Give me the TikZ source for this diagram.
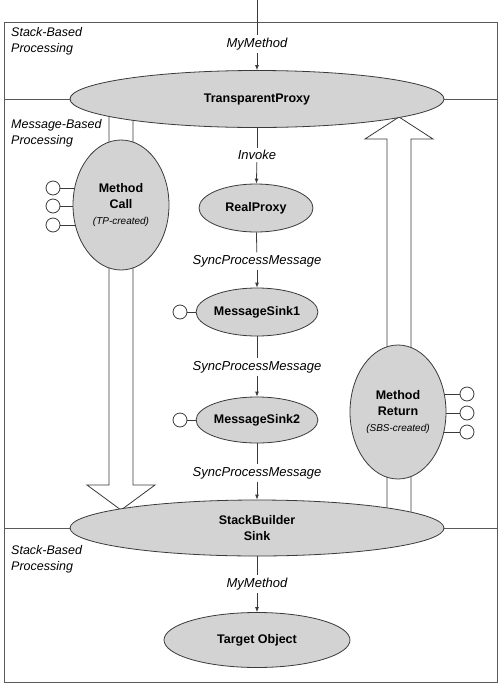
\documentclass[tikz,border=0pt]{standalone}
\usepackage{fontspec}
\setmainfont{Liberation Sans}
\usetikzlibrary{shapes.geometric, arrows.meta, backgrounds}
\definecolor{boxgray}{HTML}{D3D3D3}
\definecolor{linegray}{HTML}{3A3A3A}
\tikzstyle{flow} = [-{Latex[length=5pt,width=4pt]}, draw=linegray, line width=0.8pt]
\tikzstyle{obj} = [ellipse, draw=linegray, fill=boxgray, line width=0.8pt, inner sep=0pt, align=center, font=\bfseries\fontsize{12.5}{16}\selectfont]
\tikzstyle{lbl} = [inner sep=2.5pt, font=\itshape\fontsize{13}{15}\selectfont]
\tikzstyle{region} = [anchor=west, inner sep=0pt, align=left, font=\itshape\fontsize{12.5}{16}\selectfont]
\tikzstyle{plug} = [circle, draw=linegray, fill=white, line width=0.8pt, minimum size=14pt, inner sep=0pt]
\tikzstyle{bigarrow} = [draw=linegray, fill=white, line width=0.8pt]
\tikzstyle{frame} = [draw=black!65, line width=1pt]
\newcommand{\creator}[1]{{\mdseries\itshape\fontsize{10}{12}\selectfont #1}}

\begin{document}
\begin{tikzpicture}[x=1pt,y=-1pt]
    \useasboundingbox (0,0) rectangle (500,686);
    \draw[frame] (4,22) rectangle (497,682);
    \coordinate (entry) at (257,0);
    \coordinate (tpleft) at (4,99);
    \coordinate (tpright) at (497,99);
    \coordinate (sbsleft) at (4,528);
    \coordinate (sbsright) at (497,528);
    % region names
    \node[region] (stacktop) at (11,41.5) {Stack-Based\\Processing};
    \node[region] (msgmid) at (11,133.5) {Message-Based\\Processing};
    \node[region] (stackbot) at (11,559.5) {Stack-Based\\Processing};
    % objects
    \node[obj, minimum width=374pt, minimum height=57pt] (tp) at (257,99) {TransparentProxy};
    \node[obj, minimum width=114pt, minimum height=48pt] (rproxy) at (256,208) {RealProxy};
    \node[obj, minimum width=116pt, minimum height=48pt] (sink1) at (257,312) {MessageSink1};
    \node[obj, minimum width=117pt, minimum height=46pt] (sink2) at (257,420) {MessageSink2};
    \node[obj, minimum width=374pt, minimum height=56pt] (sbs) at (257,528) {StackBuilder\\Sink};
    \node[obj, minimum width=186pt, minimum height=55pt] (target) at (257,640) {Target Object};
    \node[obj, minimum width=96pt, minimum height=130pt] (mcall) at (121,205) {Method\\Call\\\creator{(TP-created)}};
    \node[obj, minimum width=96pt, minimum height=134pt] (mret) at (398,412) {Method\\Return\\\creator{(SBS-created)}};
    % message properties
    \node[plug] (pc1) at (53,188) {};
    \node[plug] (pc2) at (53,206) {};
    \node[plug] (pc3) at (53,225) {};
    \node[plug] (ps1) at (180,312) {};
    \node[plug] (ps2) at (180,420) {};
    \node[plug] (pr1) at (467,394) {};
    \node[plug] (pr2) at (467,413) {};
    \node[plug] (pr3) at (467,432) {};
    % call chain
    \node[lbl] (mm1) at (257,44) {MyMethod};
    \node[lbl] (inv) at (257,155) {Invoke};
    \node[lbl] (spm1) at (257,261) {SyncProcessMessage};
    \node[lbl] (spm2) at (257,367) {SyncProcessMessage};
    \node[lbl] (spm3) at (257,473) {SyncProcessMessage};
    \node[lbl] (mm2) at (257,584) {MyMethod};
    \draw[draw=linegray, line width=0.8pt] (entry) -- (mm1);
    \draw[flow] (mm1) -- (tp);
    \draw[draw=linegray, line width=0.8pt] (tp) -- (inv);
    \draw[flow] (inv) -- (rproxy);
    \draw[draw=linegray, line width=0.8pt] (rproxy) -- (spm1);
    \draw[flow] (spm1) -- (sink1);
    \draw[draw=linegray, line width=0.8pt] (sink1) -- (spm2);
    \draw[flow] (spm2) -- (sink2);
    \draw[draw=linegray, line width=0.8pt] (sink2) -- (spm3);
    \draw[flow] (spm3) -- (sbs);
    \draw[draw=linegray, line width=0.8pt] (sbs) -- (mm2);
    \draw[flow] (mm2) -- (target);
    \begin{scope}[on background layer]
        \draw[frame] (tpleft) -- (tp.west);
        \draw[frame] (tp.east) -- (tpright);
        \draw[frame] (sbsleft) -- (sbs.west);
        \draw[frame] (sbs.east) -- (sbsright);
        % message travels down, result travels up
        \filldraw[bigarrow] (109,110) -- (109,485) -- (87,485) -- (121,510)
            -- (155,485) -- (133,485) -- (133,110) -- cycle;
        \filldraw[bigarrow] (387,530) -- (387,139) -- (365,139) -- (399,117)
            -- (433,139) -- (411,139) -- (411,530) -- cycle;
        \foreach \p in {pc1,pc2,pc3}
            \draw[draw=linegray, line width=0.8pt] (\p) -- (\p -| mcall);
        \foreach \p in {pr1,pr2,pr3}
            \draw[draw=linegray, line width=0.8pt] (\p) -- (\p -| mret);
        \draw[draw=linegray, line width=0.8pt] (ps1) -- (sink1);
        \draw[draw=linegray, line width=0.8pt] (ps2) -- (sink2);
    \end{scope}
\end{tikzpicture}
\end{document}
